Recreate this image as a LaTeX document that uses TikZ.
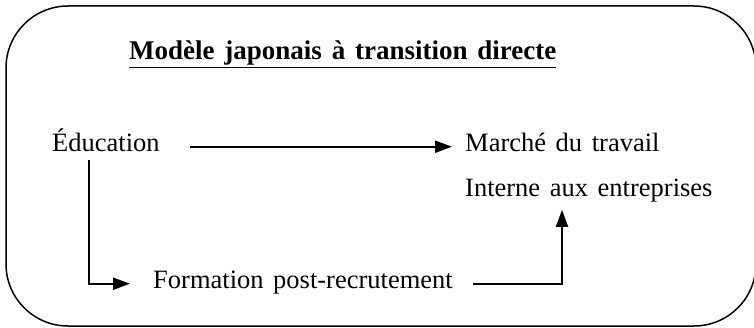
\documentclass[tikz,border=0pt]{standalone}
\usepackage{fontspec}
\setmainfont[WordSpace=1.45]{Liberation Serif}
\usetikzlibrary{arrows.meta}

\begin{document}
\begin{tikzpicture}[>={Triangle[length=17pt,width=12pt]},x=1pt,y=-1pt]
	\tikzstyle{every node} = [inner sep=0pt,anchor=base west,font=\fontsize{26.5}{30}\selectfont];
	\tikzstyle{fleche} = [->,line width=2pt];
	\useasboundingbox (0,0) rectangle (754,328);
	\draw[line width=1.5pt,rounded corners=62pt] (6,6) rectangle (756,326);
	\node[font=\fontsize{27}{30}\selectfont\bfseries] (titre) at (129,60) {\underline{Modèle japonais à transition directe}};
	\node (edu) at (52,152) {Éducation};
	\node (marche) at (465,152) {Marché du travail};
	\node (interne) at (465,197) {Interne aux entreprises};
	\node (formation) at (153,288) {Formation post-recrutement};
	\draw[fleche,shorten <=30pt,shorten >=13pt] ([yshift=3pt]edu.mid east) -- ([yshift=3pt]marche.mid west);
	\draw[fleche,shorten <=8pt,shorten >=23pt] ([xshift=37pt]edu.south west) |- ([yshift=2pt]formation.mid west);
	\draw[fleche,shorten <=20pt,shorten >=7pt] ([yshift=2pt]formation.mid east) -| ([xshift=97pt]interne.south west);
\end{tikzpicture}
\end{document}
